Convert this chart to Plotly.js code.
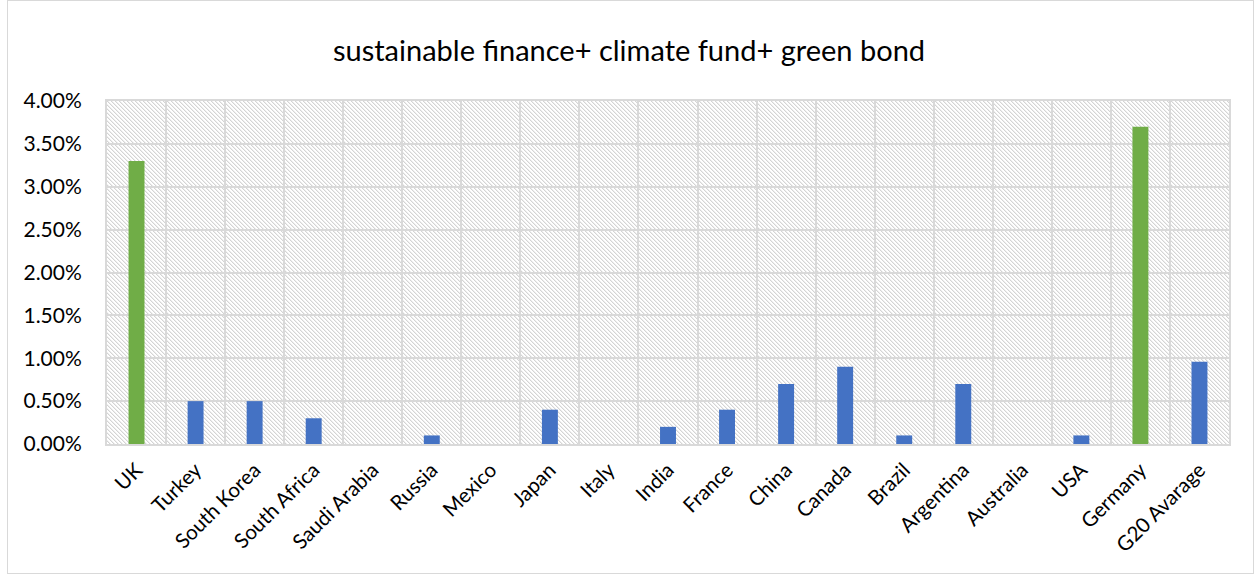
<!DOCTYPE html>
<html>
<head>
<meta charset="utf-8">
<script src="https://cdn.plot.ly/plotly-3.0.1.min.js"></script>
<style>
  html, body { margin: 0; padding: 0; background: #ffffff; }
  #wrap { position: relative; width: 1258px; height: 576px; }
  #frame { position: absolute; left: 7px; top: 0px; width: 1247px; height: 574px; border: 1px solid #d9d9d9; box-sizing: border-box; }
  #hatch { position: absolute; background-color: #ffffff; background-repeat: repeat; background-size: 4px 4px; image-rendering: pixelated; }
  #chart { position: absolute; left: 0; top: 0; width: 1258px; height: 576px; }
</style>
</head>
<body>
<div id="wrap">
  <div id="frame"></div>
  <div id="hatch"></div>
  <div id="chart"></div>
</div>
<script>
const categories = ["UK","Turkey","South Korea","South Africa","Saudi Arabia","Russia","Mexico","Japan","Italy","India","France","China","Canada","Brazil","Argentina","Australia","USA","Germany","G20 Avarage"];
const values = [0.033,0.005,0.005,0.003,0,0.001,0,0.004,0,0.002,0.004,0.007,0.009,0.001,0.007,0,0.001,0.037,0.0096];
const highlighted = ["UK","Germany"];
const greenColor = "#70AD47";
const blueColor = "#4472C4";
const yTicks = [0,0.005,0.01,0.015,0.02,0.025,0.03,0.035,0.04];
const titleText = "sustainable finance+ climate fund+ green bond";

const margin = {l: 107, r: 29, t: 101, b: 132};
const W = 1258, H = 576;
const hatch = document.getElementById('hatch');
hatch.style.left = margin.l + 'px';
hatch.style.top = margin.t + 'px';
hatch.style.width = (W - margin.l - margin.r) + 'px';
hatch.style.height = (H - margin.t - margin.b) + 'px';
const tile = "<svg xmlns='http://www.w3.org/2000/svg' width='4' height='4' shape-rendering='crispEdges'>" +
  "<rect x='0' y='0' width='1' height='1' fill='#d4d4d4'/>" +
  "<rect x='1' y='1' width='1' height='1' fill='#d4d4d4'/>" +
  "<rect x='2' y='2' width='1' height='1' fill='#d4d4d4'/>" +
  "<rect x='3' y='3' width='1' height='1' fill='#d4d4d4'/>" +
  "<rect x='1' y='0' width='1' height='1' fill='#eeeeee'/>" +
  "<rect x='2' y='1' width='1' height='1' fill='#eeeeee'/>" +
  "<rect x='3' y='2' width='1' height='1' fill='#eeeeee'/>" +
  "<rect x='0' y='3' width='1' height='1' fill='#eeeeee'/>" +
  "</svg>";
hatch.style.backgroundImage = 'url("data:image/svg+xml;utf8,' + encodeURIComponent(tile) + '")';

const font = "Lato, 'Open Sans', 'Liberation Sans', sans-serif";

const trace = {
  type: 'bar',
  x: categories,
  y: values,
  width: 0.27,
  marker: { color: categories.map(c => highlighted.includes(c) ? greenColor : blueColor), line: {width: 0} },
  hoverinfo: 'x+y'
};

const layout = {
  width: W, height: H,
  margin: margin,
  paper_bgcolor: 'rgba(0,0,0,0)',
  plot_bgcolor: 'rgba(0,0,0,0)',
  showlegend: false,
  title: { text: titleText, x: 0.5, xanchor: 'center', y: 0.912, yanchor: 'middle', font: {family: font, size: 29, color: '#000000'} },
  xaxis: {
    type: 'category',
    tickson: 'boundaries',
    showgrid: true, gridcolor: '#d9d9d9', gridwidth: 2,
    showline: true, linecolor: '#d9d9d9', linewidth: 2, mirror: true,
    ticks: '', tickangle: -45,
    ticklabelstandoff: 4,
    tickfont: {family: font, size: 20.5, color: '#000000'},
    fixedrange: true
  },
  yaxis: {
    range: [0, 0.04],
    tickvals: yTicks,
    tickformat: '.2%',
    showgrid: true, gridcolor: '#d9d9d9', gridwidth: 2,
    showline: true, linecolor: '#d9d9d9', linewidth: 2, mirror: true,
    zeroline: false,
    ticks: '',
    ticklabelstandoff: 19,
    tickfont: {family: font, size: 21, color: '#000000'},
    fixedrange: true
  }
};

Plotly.newPlot('chart', [trace], layout, {displayModeBar: false, staticPlot: true});
</script>
</body>
</html>
